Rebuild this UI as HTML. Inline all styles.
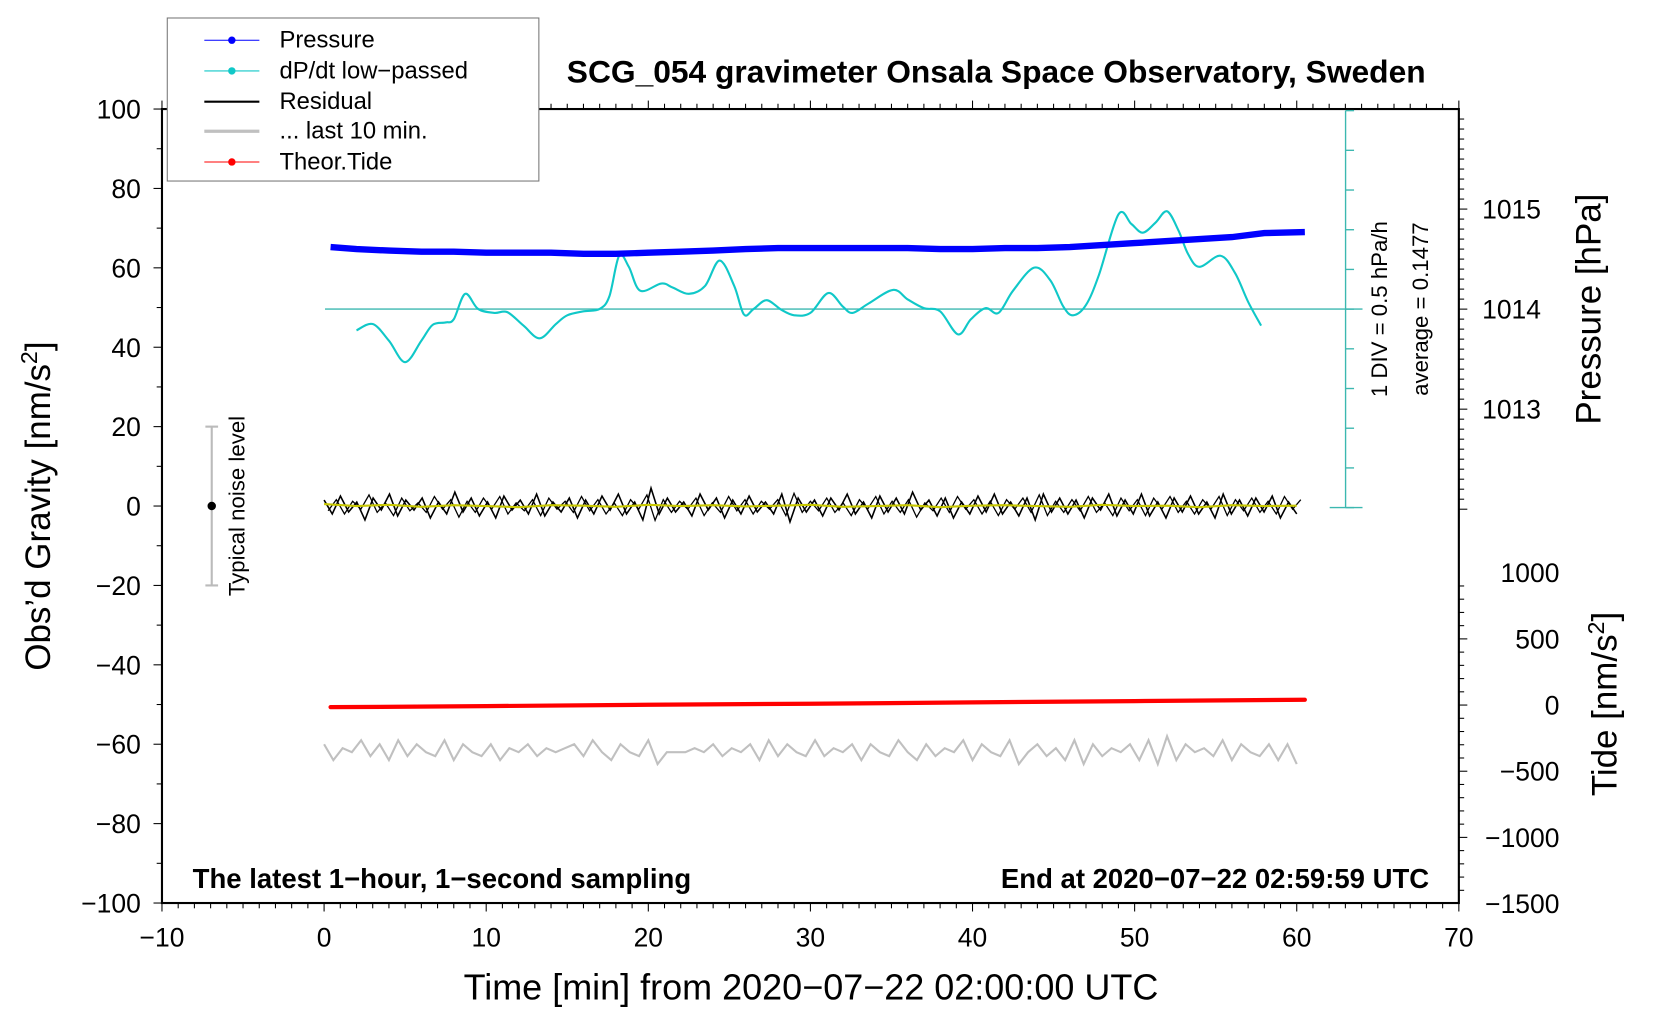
<!DOCTYPE html>
<html><head><meta charset="utf-8"><style>
html,body{margin:0;padding:0;background:#fff}
svg{display:block;font-family:"Liberation Sans",sans-serif}
</style></head><body>
<svg id="chart" width="1660" height="1020" viewBox="0 0 1568 963.5" preserveAspectRatio="none" xmlns="http://www.w3.org/2000/svg">
<g id="static"></g>
</svg>
<script>
// ---- data ----
const xTicks=[-10,0,10,20,30,40,50,60,70];
const yTicks=[100,80,60,40,20,0,-20,-40,-60,-80,-100];
const pTicks=[1015,1014,1013];
const tideTicks=[1000,500,0,-500,-1000,-1500];
const pressureT=[0.4,2,4,6,8,10,12,14,16,18,20,22,24,26,28,30,32,34,36,38,40,42,44,46,48,50,52,54,56,58,60.5];
const pressureV=[1014.62,1014.60,1014.585,1014.574,1014.574,1014.564,1014.564,1014.564,1014.553,1014.553,1014.564,1014.574,1014.585,1014.60,1014.61,1014.61,1014.61,1014.61,1014.61,1014.60,1014.60,1014.61,1014.61,1014.62,1014.64,1014.66,1014.68,1014.70,1014.72,1014.76,1014.77];
const dpdtT=[2,3,4,5,6,6.7,7.5,8,8.7,9.5,10.5,11.3,12.3,13.3,14.3,15,16,17,17.6,18.2,18.8,19.5,20.8,21.5,22.5,23.5,24.4,25.3,25.9,26.5,27.3,28.2,29,30,31.1,32,32.6,33.6,35.1,36,37,38,39.1,39.9,40.8,41.6,42.5,43.8,44.8,45.6,46.2,47,47.8,49,49.8,50.5,51.3,52,52.7,53.3,54,55.3,56.2,57,57.8];
const dpdtV=[-0.12,-0.04,-0.25,-0.52,-0.25,-0.05,-0.02,0.02,0.34,0.15,0.10,0.11,-0.06,-0.22,-0.04,0.07,0.12,0.15,0.31,0.82,0.68,0.38,0.47,0.42,0.34,0.44,0.76,0.44,0.08,0.15,0.26,0.14,0.07,0.10,0.35,0.18,0.10,0.22,0.39,0.27,0.16,0.12,-0.17,0.02,0.16,0.10,0.38,0.67,0.51,0.18,0.07,0.20,0.58,1.34,1.22,1.11,1.24,1.38,1.14,0.84,0.68,0.82,0.60,0.24,-0.06];
const dpdtAvg=0.1477;
const residV=[1.5,-2,2.5,-1.5,1,-3.5,2,-1,3,-2.5,1.5,-1,2,-3,1,-2,3.5,-1.5,2,-2.5,1,-3,2.5,-1,1.5,-2,3,-2.5,1,-1.5,2,-3,1.5,-2,2.5,-1,3,-2,1,-3.5,4.5,-2,2,-1.5,1,-2.5,3,-1,2,-3,1.5,-2,2.5,-1.5,1,-2,3,-4,2,-1.5,1.5,-2.5,2,-1,3,-2,1,-3,2.5,-1.5,2,-2,3.5,-1,1.5,-2.5,2,-3,1,-2,2.5,-1.5,3,-2,1,-2.5,2,-3.5,3,-1.5,2,-2,1.5,-3,2,-1,3,-2.5,1.5,-2,3,-2.5,1,-3,2,-1.5,2.5,-2,1,-3,3,-2,1.5,-2.5,2,-1.5,2.5,-3,1,-2];
const residSmooth=[0.5,0,0.3,-0.2,0.2,0,-0.3,0.2,0.1,-0.2,0.3,0,0.2,-0.1,0.1,0.3,-0.2,0,0.2,-0.3,0.1,0.2,0,-0.2,0.3,0,0.1,-0.3,0.2,0,0.1];
const lastV=[-60,-64,-61,-62,-59,-63,-60,-64,-59,-63,-60,-62,-63,-59,-64,-60,-62,-63,-60,-64,-61,-62,-60,-63,-61,-62,-61,-60,-63,-59,-62,-64,-60,-62,-63,-59,-65,-62,-62,-62,-61,-62,-60,-63,-61,-62,-60,-64,-59,-63,-60,-62,-63,-59,-63,-61,-62,-60,-64,-60,-62,-63,-59,-62,-64,-60,-63,-61,-62,-59,-64,-60,-62,-63,-59,-65,-62,-60,-63,-61,-64,-59,-65,-60,-63,-61,-62,-60,-64,-59,-65,-58,-64,-60,-62,-61,-63,-59,-64,-60,-62,-63,-60,-64,-60,-65];
const tideT=[0.4,10,20,30,40,50,60.5];
const tideV=[-16,-8,2,10,20,30,40];
// ---- axes ----
const L=153,R=1378,T=103,B=853;
const X=t=>L+(t+10)*(R-L)/80;
const Y=v=>T+(100-v)*(B-T)/200;
const YP=p=>292-(p-1014)*94.5;
const YT=n=>666-n*0.125;
const YD=d=>292-(d-dpdtAvg)/0.5*37.5;
const NS='http://www.w3.org/2000/svg';
const svg=document.getElementById('chart');
function mk(tag,attrs,parent,txt){const e=document.createElementNS(NS,tag);for(const k in attrs)e.setAttribute(k,attrs[k]);if(txt!==undefined)e.textContent=txt;(parent||svg).appendChild(e);return e;}
function smooth(pts){let d='M'+pts[0][0]+','+pts[0][1];for(let i=0;i<pts.length-1;i++){const p0=pts[i-1]||pts[i],p1=pts[i],p2=pts[i+1],p3=pts[i+2]||p2;d+=' C'+(p1[0]+(p2[0]-p0[0])/6)+','+(p1[1]+(p2[1]-p0[1])/6)+' '+(p2[0]-(p3[0]-p1[0])/6)+','+(p2[1]-(p3[1]-p1[1])/6)+' '+p2[0]+','+p2[1];}return d;}
let ax=mk('g',{});


mk('rect',{x:L,y:T,width:R-L,height:B-T,fill:'none',stroke:'#000','stroke-width':2},ax);
for(let t=-10;t<=70;t++){const maj=t%10===0;mk('line',{x1:X(t),x2:X(t),y1:B,y2:B+(maj?8:5),stroke:'#000','stroke-width':1},ax);mk('line',{x1:X(t),x2:X(t),y1:T,y2:T-(maj?8:5),stroke:'#000','stroke-width':1},ax);}
for(let v=-100;v<=100;v+=10){mk('line',{x1:L,x2:L-(v%20===0?8:5),y1:Y(v),y2:Y(v),stroke:'#000'},ax);}
xTicks.forEach(t=>{const e=mk('text',{x:X(t),y:894,'font-size':25,'text-anchor':'middle'},ax,String(t).replace('-','\u2212'));});
yTicks.forEach(v=>{const e=mk('text',{x:133,y:Y(v)+9,'font-size':25,'text-anchor':'end'},ax,String(v).replace('-','\u2212'));});
for(let p=1012.0;p<=1015.95;p+=0.1){const y=YP(p);if(y<T||y>545)continue;const maj=Math.abs(p-Math.round(p))<0.01;mk('line',{x1:R,x2:R+(maj?8:5),y1:y,y2:y,stroke:'#000'},ax);}
pTicks.forEach(p=>{const e=mk('text',{x:1400,y:YP(p)+9,'font-size':25},ax,String(p));});
for(let n=-1500;n<=1300;n+=100){const y=YT(n);if(y<545||y>B)continue;mk('line',{x1:R,x2:R+(n%500===0?8:5),y1:y,y2:y,stroke:'#000'},ax);}
tideTicks.forEach(n=>{const e=mk('text',{x:1473,y:YT(n)+9,'font-size':25,'text-anchor':'end'},ax,String(n).replace('-','\u2212'));});
// cyan scale
let cs=mk('g',{stroke:'#3cb8b0','stroke-width':1.3});


mk('line',{x1:1271,x2:1271,y1:YD(dpdtAvg+2.5),y2:YD(dpdtAvg-2.5)},cs);
for(let k=-5;k<=5;k++){const y=YD(dpdtAvg+k*0.5);mk('line',{x1:1271,x2:1279,y1:y,y2:y},cs);if(k===-5)mk('line',{x1:1256,x2:1287,y1:y,y2:y},cs);}
mk('line',{x1:307,x2:1287,y1:YD(dpdtAvg),y2:YD(dpdtAvg)},cs);
let g1=mk('polyline',{points:lastV.map((v,i)=>X(i*60/(lastV.length-1))+','+Y(v)).join(' '),fill:'none',stroke:'#c0c0c0','stroke-width':2});


let tl=mk('polyline',{points:tideT.map((t,i)=>X(t)+','+YT(tideV[i])).join(' '),fill:'none',stroke:'#f00','stroke-width':4,'stroke-linecap':'round'});


let rl=mk('polyline',{points:residV.map((v,i)=>X(i*60/(residV.length-1))+','+Y(v)).join(' '),fill:'none',stroke:'#000','stroke-width':1.5});


let rl2=mk('polyline',{points:residV.map((v,i)=>X(i*60/(residV.length-1)+0.25)+','+Y(-v*0.8)).join(' '),fill:'none',stroke:'#000','stroke-width':1.2});


let ys=mk('polyline',{points:residSmooth.map((v,i)=>X(i*2)+','+Y(v)).join(' '),fill:'none',stroke:'#c8c800','stroke-width':2});


let dl=mk('path',{d:smooth(dpdtT.map((t,i)=>[X(t),YD(dpdtV[i])])),fill:'none',stroke:'#10c8c8','stroke-width':2});


let pl=mk('polyline',{points:pressureT.map((t,i)=>X(t)+','+YP(pressureV[i])).join(' '),fill:'none',stroke:'#0000ff','stroke-width':6});


let nb=mk('g',{});


mk('line',{x1:200,x2:200,y1:Y(20),y2:Y(-20),stroke:'#bbb','stroke-width':2},nb);
mk('line',{x1:194,x2:206,y1:Y(20),y2:Y(20),stroke:'#bbb','stroke-width':2},nb);
mk('line',{x1:194,x2:206,y1:Y(-20),y2:Y(-20),stroke:'#bbb','stroke-width':2},nb);
mk('circle',{cx:200,cy:Y(0),r:4,fill:'#000'},nb);
</script>
<svg style="position:absolute;left:0;top:0" width="1660" height="1020" viewBox="0 0 1568 963.5" preserveAspectRatio="none" xmlns="http://www.w3.org/2000/svg" font-family="Liberation Sans, sans-serif">
<text transform="translate(231,478) rotate(-90)" text-anchor="middle" font-size="21">Typical noise level</text>
<text transform="translate(1310,292) rotate(-90)" text-anchor="middle" font-size="21">1 DIV = 0.5 hPa/h</text>
<text transform="translate(1349,292) rotate(-90)" text-anchor="middle" font-size="21">average = 0.1477</text>
<text x="941" y="78" text-anchor="middle" font-size="30" font-weight="bold">SCG_054 gravimeter Onsala Space Observatory, Sweden</text>
<text x="182" y="839" font-size="26" font-weight="bold">The latest 1−hour, 1−second sampling</text>
<text x="1350" y="839" text-anchor="end" font-size="26" font-weight="bold">End at 2020−07−22 02:59:59 UTC</text>
<text x="766" y="944" text-anchor="middle" font-size="34">Time [min] from 2020−07−22 02:00:00 UTC</text>
<text transform="translate(47,478) rotate(-90)" text-anchor="middle" font-size="33">Obs’d Gravity [nm/s<tspan font-size="22" dy="-12">2</tspan><tspan dy="12">]</tspan></text>
<text transform="translate(1512,292) rotate(-90)" text-anchor="middle" font-size="33">Pressure [hPa]</text>
<text transform="translate(1527,665) rotate(-90)" text-anchor="middle" font-size="33">Tide [nm/s<tspan font-size="22" dy="-12">2</tspan><tspan dy="12">]</tspan></text>
<g>
<rect x="158" y="17" width="351" height="154" fill="#fff" stroke="#777" stroke-width="1"/>
<line x1="193" x2="245" y1="38" y2="38" stroke="#00f"/><circle cx="219" cy="38" r="3.5" fill="#00f"/>
<text x="264" y="45" font-size="22.5">Pressure</text>
<line x1="193" x2="245" y1="67" y2="67" stroke="#10c8c8"/><circle cx="219" cy="67" r="3.5" fill="#10c8c8"/>
<text x="264" y="74" font-size="22.5">dP/dt low−passed</text>
<line x1="193" x2="245" y1="96" y2="96" stroke="#000" stroke-width="2"/>
<text x="264" y="103" font-size="22.5">Residual</text>
<line x1="193" x2="245" y1="124" y2="124" stroke="#c0c0c0" stroke-width="3"/>
<text x="264" y="131" font-size="22.5">... last 10 min.</text>
<line x1="193" x2="245" y1="153" y2="153" stroke="#f00"/><circle cx="219" cy="153" r="3.5" fill="#f00"/>
<text x="264" y="160" font-size="22.5">Theor.Tide</text>
</g>
</svg>
</body></html>
